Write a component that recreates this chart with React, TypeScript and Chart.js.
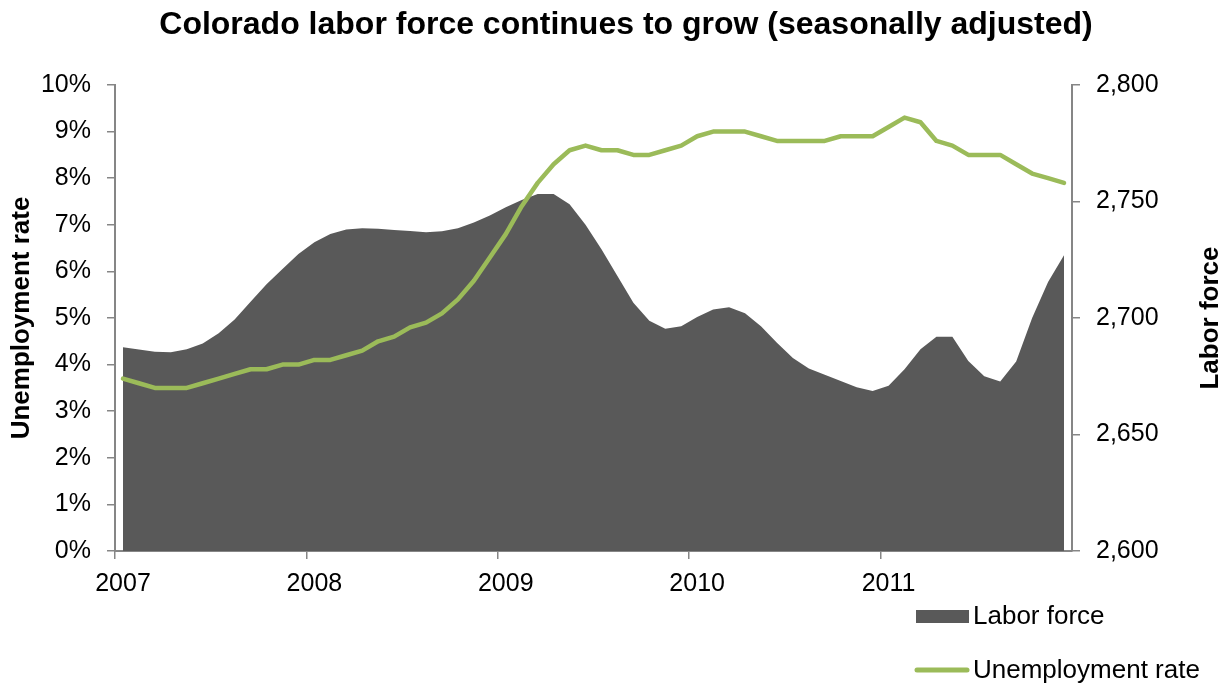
import React, { useEffect, useRef } from "react";
import { Chart, registerables } from "chart.js";

Chart.register(...registerables);

const YEARS = [2007, 2008, 2009, 2010, 2011];
const MONTHS = ["Jan", "Feb", "Mar", "Apr", "May", "Jun", "Jul", "Aug", "Sep", "Oct", "Nov", "Dec"];
const categories: string[] = YEARS.flatMap((y) => MONTHS.map((m) => `${m} ${y}`));

// Unemployment rate, % (left axis)
const unemploymentRate = [
  3.7, 3.6, 3.5, 3.5, 3.5, 3.6, 3.7, 3.8, 3.9, 3.9, 4.0, 4.0,
  4.1, 4.1, 4.2, 4.3, 4.5, 4.6, 4.8, 4.9, 5.1, 5.4, 5.8, 6.3,
  6.8, 7.4, 7.9, 8.3, 8.6, 8.7, 8.6, 8.6, 8.5, 8.5, 8.6, 8.7,
  8.9, 9.0, 9.0, 9.0, 8.9, 8.8, 8.8, 8.8, 8.8, 8.9, 8.9, 8.9,
  9.1, 9.3, 9.2, 8.8, 8.7, 8.5, 8.5, 8.5, 8.3, 8.1, 8.0, 7.9,
];

// Labor force, thousands (right axis)
const laborForce = [
  2687.4, 2686.5, 2685.5, 2685.3, 2686.6, 2689.1, 2693.5, 2699.4, 2707.0, 2714.5, 2721.0, 2727.5,
  2732.5, 2736.0, 2738.0, 2738.5, 2738.3, 2737.8, 2737.3, 2736.8, 2737.2, 2738.5, 2741.0, 2744.0,
  2747.5, 2750.6, 2753.2, 2753.2, 2748.8, 2740.0, 2729.5, 2718.0, 2706.5, 2698.8, 2695.4, 2696.5,
  2700.4, 2703.6, 2704.6, 2702.0, 2696.5, 2689.4, 2682.8, 2678.3, 2675.6, 2673.0, 2670.3, 2668.7,
  2670.9, 2678.0, 2686.6, 2692.0, 2692.0, 2681.5, 2675.0, 2672.8, 2681.3, 2700.0, 2715.5, 2727.0,
];

const leftTicks = { min: 0, max: 10, step: 1 };
const rightTicks = { min: 2600, max: 2800, step: 50 };

const TITLE = "Colorado labor force continues to grow (seasonally adjusted)";
const LEFT_TITLE = "Unemployment rate";
const RIGHT_TITLE = "Labor force";
const LEGEND_LABELS = ["Labor force", "Unemployment rate"];

const FONT = "'Liberation Sans', Arial, sans-serif";
const AREA_COLOR = "#595959";
const LINE_COLOR = "#9BBB59";
const AXIS_COLOR = "#868686";

const extrasPlugin = {
  id: "extras",
  afterDraw(chart: any) {
    const ctx = chart.ctx as CanvasRenderingContext2D;
    const area = chart.chartArea;

    // chart title
    ctx.save();
    ctx.fillStyle = "#000";
    ctx.font = `bold 32px ${FONT}`;
    ctx.textAlign = "center";
    ctx.textBaseline = "middle";
    ctx.fillText(TITLE, 626, 25);
    ctx.restore();

    // right axis title, reading bottom-to-top
    ctx.save();
    ctx.fillStyle = "#000";
    ctx.font = `bold 26px ${FONT}`;
    ctx.textAlign = "center";
    ctx.textBaseline = "middle";
    ctx.translate(1211, (area.top + area.bottom) / 2);
    ctx.rotate(-Math.PI / 2);
    ctx.fillText(RIGHT_TITLE, 0, 0);
    ctx.restore();

    // legend
    ctx.save();
    ctx.fillStyle = AREA_COLOR;
    ctx.fillRect(916, 610, 53, 13);
    ctx.strokeStyle = LINE_COLOR;
    ctx.lineWidth = 5;
    ctx.lineCap = "round";
    ctx.beginPath();
    ctx.moveTo(917, 670);
    ctx.lineTo(967, 670);
    ctx.stroke();
    ctx.fillStyle = "#000";
    ctx.font = `26px ${FONT}`;
    ctx.textAlign = "left";
    ctx.textBaseline = "middle";
    ctx.fillText(LEGEND_LABELS[0], 973, 617);
    ctx.fillText(LEGEND_LABELS[1], 973, 671);
    ctx.restore();
  },
};

export default function App() {
  const canvasRef = useRef<HTMLCanvasElement | null>(null);

  useEffect(() => {
    if (!canvasRef.current) return;
    const chart = new Chart(canvasRef.current, {
      type: "line",
      data: {
        labels: categories,
        datasets: [
          {
            label: LEGEND_LABELS[1],
            data: unemploymentRate,
            yAxisID: "y",
            borderColor: LINE_COLOR,
            borderWidth: 4.5,
            borderCapStyle: "round",
            borderJoinStyle: "round",
            pointRadius: 0,
            fill: false,
            tension: 0,
            order: 0,
          },
          {
            label: LEGEND_LABELS[0],
            data: laborForce,
            yAxisID: "y1",
            borderWidth: 0,
            backgroundColor: AREA_COLOR,
            borderColor: AREA_COLOR,
            pointRadius: 0,
            fill: "start",
            tension: 0,
            order: 1,
          },
        ],
      },
      options: {
        responsive: false,
        animation: false,
        devicePixelRatio: 1,
        layout: { padding: { top: 85, left: 0, right: 0, bottom: 0 } },
        plugins: {
          legend: { display: false },
          tooltip: { enabled: false },
          title: { display: false },
        },
        scales: {
          x: {
            type: "category",
            offset: true,
            grid: {
              offset: true,
              drawOnChartArea: false,
              drawTicks: true,
              tickLength: 8,
              lineWidth: 1.5,
              color: (c: any) => (c.index % 12 === 0 ? AXIS_COLOR : "rgba(0,0,0,0)"),
            },
            border: { display: true, color: AXIS_COLOR, width: 2 },
            ticks: {
              autoSkip: false,
              maxRotation: 0,
              minRotation: 0,
              padding: 10,
              color: "#000",
              font: { family: FONT, size: 25 },
              callback: (_v: any, i: number) => (i % 12 === 0 ? String(YEARS[i / 12]) : ""),
            },
            afterFit: (s: any) => {
              s.height = 134;
            },
          },
          y: {
            position: "left",
            min: leftTicks.min,
            max: leftTicks.max,
            grid: {
              drawOnChartArea: false,
              drawTicks: true,
              tickLength: 8,
              lineWidth: 1.5,
              color: AXIS_COLOR,
            },
            border: { display: true, color: AXIS_COLOR, width: 2 },
            ticks: {
              stepSize: leftTicks.step,
              padding: 16,
              color: "#000",
              font: { family: FONT, size: 25 },
              callback: (v: any) => `${v}%`,
            },
            title: {
              display: true,
              text: LEFT_TITLE,
              color: "#000",
              font: { family: FONT, size: 26, weight: "bold" },
              padding: { top: 6, bottom: 0 },
            },
            afterFit: (s: any) => {
              s.width = 115;
            },
          },
          y1: {
            position: "right",
            min: rightTicks.min,
            max: rightTicks.max,
            grid: {
              drawOnChartArea: false,
              drawTicks: true,
              tickLength: 8,
              lineWidth: 1.5,
              color: AXIS_COLOR,
            },
            border: { display: true, color: AXIS_COLOR, width: 2 },
            ticks: {
              stepSize: rightTicks.step,
              padding: 16,
              color: "#000",
              font: { family: FONT, size: 25 },
              callback: (v: any) => Number(v).toLocaleString("en-US"),
            },
            afterFit: (s: any) => {
              s.width = 156;
            },
          },
        },
      },
      plugins: [extrasPlugin],
    });
    return () => chart.destroy();
  }, []);

  return (
    <div style={{ position: "fixed", left: 0, top: 0, width: 1228, height: 685, background: "#fff" }}>
      <canvas ref={canvasRef} width={1228} height={685} />
    </div>
  );
}
